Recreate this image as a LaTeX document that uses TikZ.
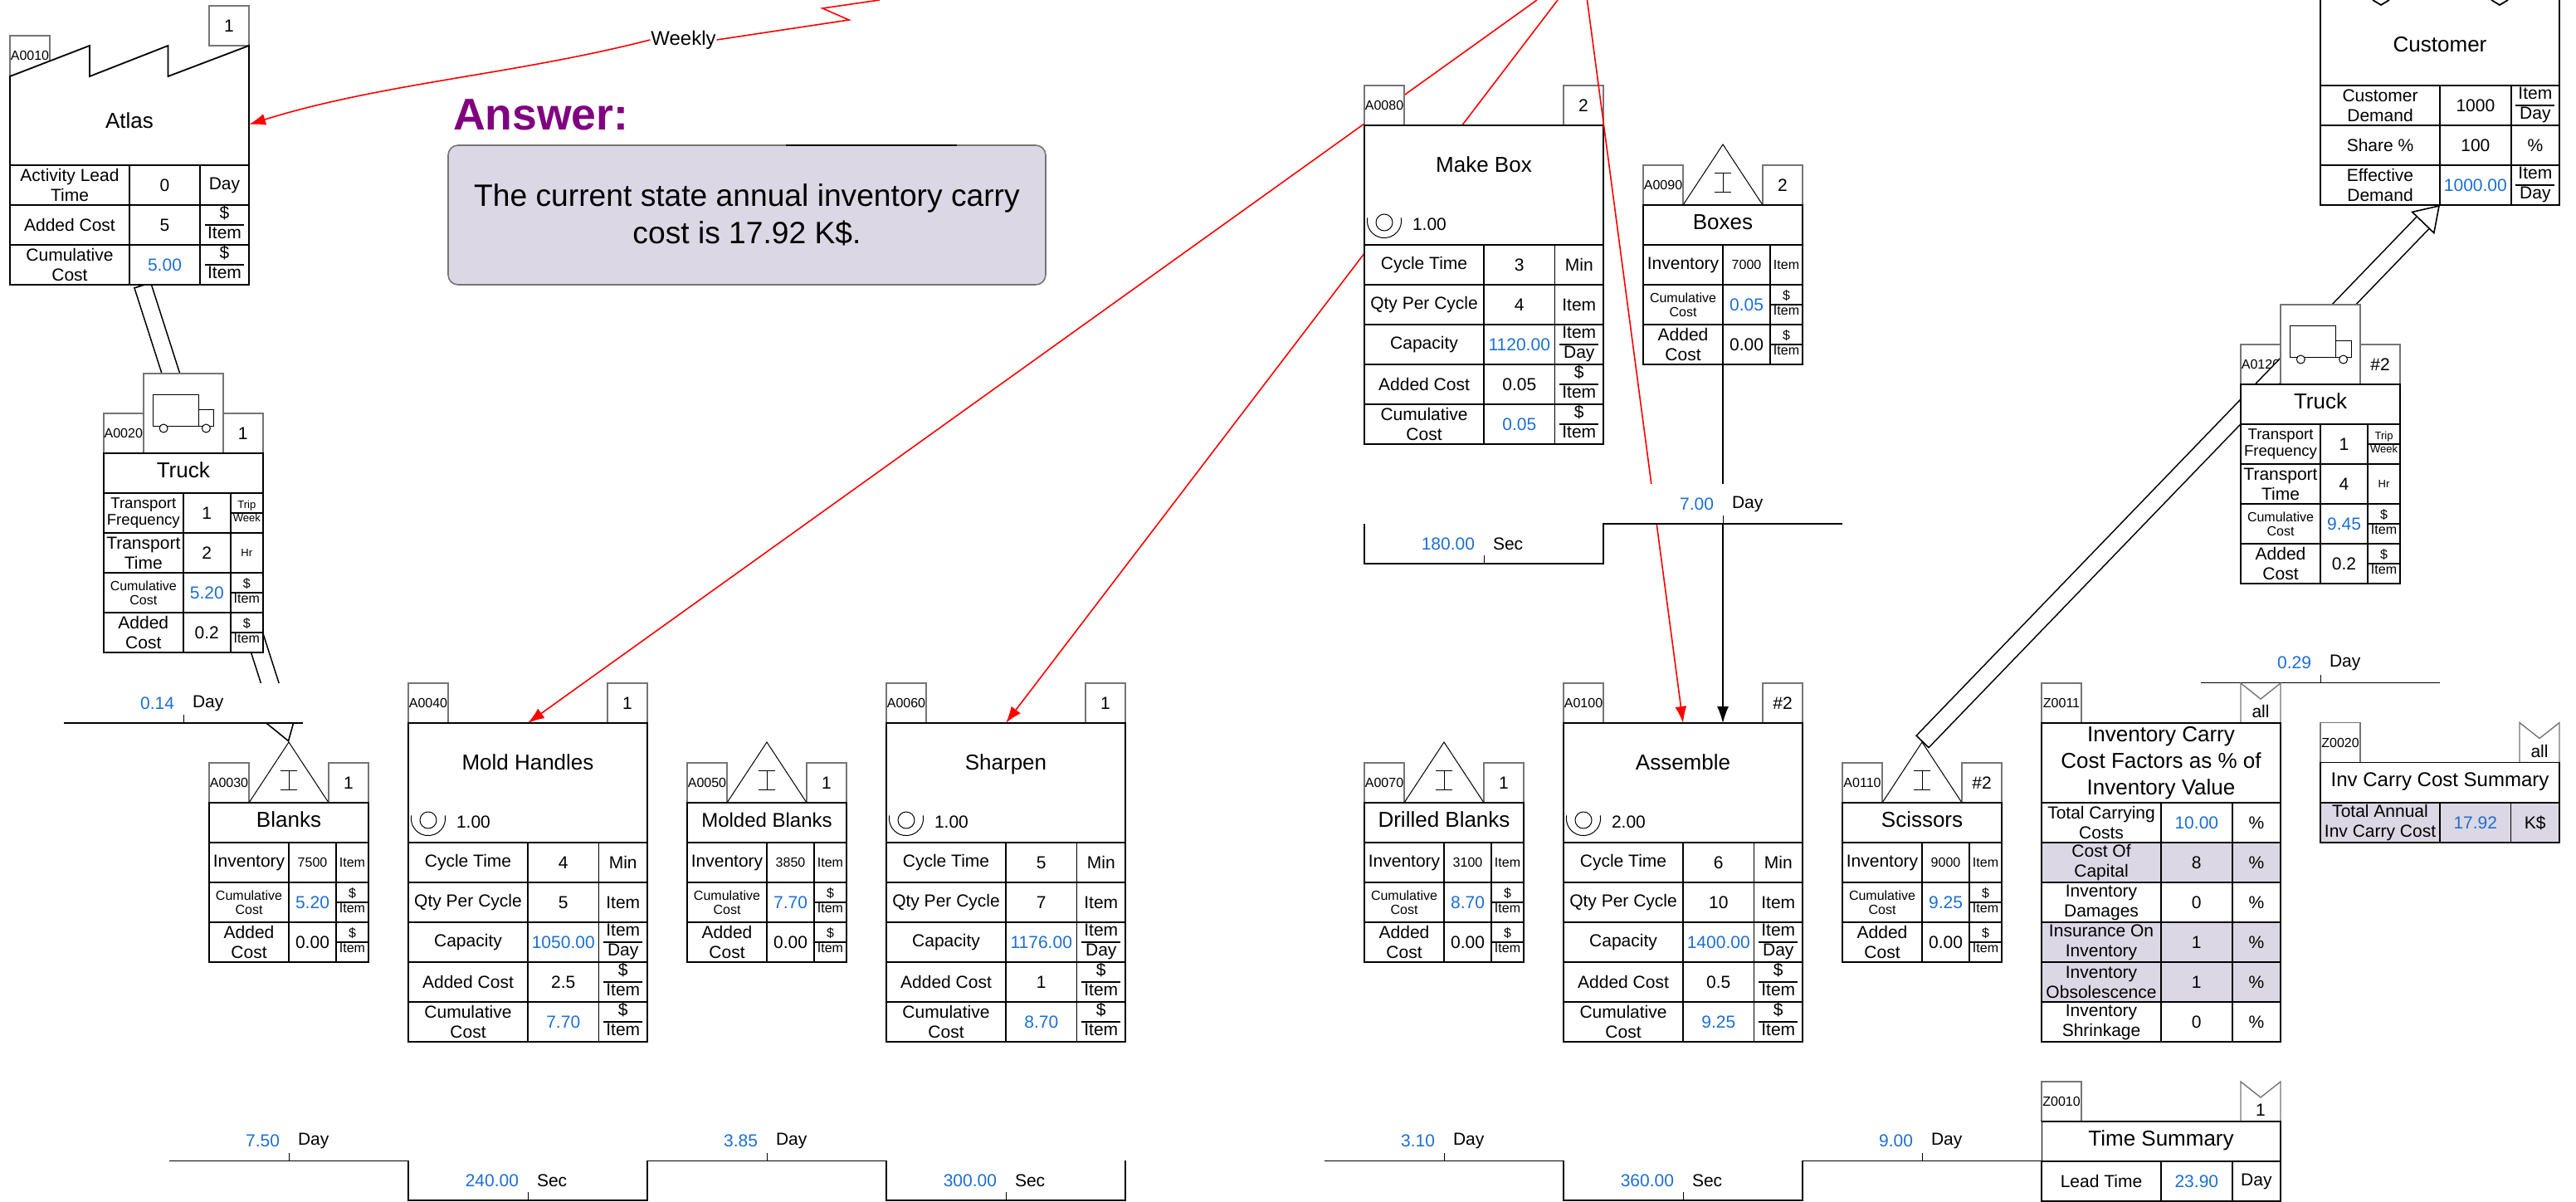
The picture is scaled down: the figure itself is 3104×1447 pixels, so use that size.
\documentclass[tikz,border=0pt]{standalone}
\usepackage{fontspec}
\setmainfont{Liberation Sans}
\usetikzlibrary{arrows.meta,calc}
\definecolor{valblue}{HTML}{1C6FD4}
\definecolor{boxlilac}{HTML}{DCD7E4}
\definecolor{answerpurple}{HTML}{800080}
\definecolor{tabgray}{HTML}{757575}
\newcommand{\fN}{\fontsize{10.5}{12}\selectfont}
\newcommand{\fS}{\fontsize{8}{9}\selectfont}
\newcommand{\fT}{\fontsize{6.5}{7.5}\selectfont}
\newcommand{\fF}{\fontsize{9.3}{11.5}\selectfont}
\newcommand{\fM}{\fontsize{12}{14}\selectfont}
\newcommand{\fH}{\fontsize{13}{16}\selectfont}
\tikzset{
  vsm-cell/.style={draw=black, fill=white, line width=0.9pt, inner sep=0pt, outer sep=0pt,
    align=center, font=\fN},
  head-text/.style={text height=9.5pt, text depth=4.5pt},
  vsm-head/.style={vsm-cell, line width=0.7pt, font=\fH, head-text},
  vsm-tab/.style={vsm-cell, draw=tabgray, line width=0.7pt},
  vsm-lilac/.style={fill=boxlilac},
  vsm-text/.style={inner sep=0pt, outer sep=0pt, align=center, font=\fN},
  vsm-thin/.style={draw=black, line width=0.5pt},
  time-cover/.style={fill=white, inner sep=0pt, outer sep=0pt, minimum width=144pt, minimum height=24pt},
  time-line/.style={draw=black, line width=0.9pt},
  info-line/.style={draw=red, line width=0.8pt},
  info-arrow/.style={info-line, -{Latex[length=10pt,width=7pt]}},
  push-arrow/.style={double, double distance=9.5pt, line width=0.8pt,
    {Bar[width=11pt,line width=0.8pt]}-{Triangle[open,fill=white,length=15pt,width=19.5pt,line width=0.8pt]}}
}
\newcommand{\cumval}[1]{\textcolor{valblue}{#1}}
\newcommand{\fracunit}[2]{{\renewcommand{\arraystretch}{.92}\setlength{\arrayrulewidth}{.9pt}%
  \begin{tabular}{@{\hspace{1.5pt}}c@{\hspace{1.5pt}}}#1\\\hline #2\end{tabular}}}
\newcommand{\vsmbox}[7][]{\node[vsm-cell, minimum width={((#5)-(#3))*0.5pt}, minimum height={((#6)-(#4))*0.5pt}, #1]
  (#2) at ({((#3)+(#5))/2},{((#4)+(#6))/2}) {#7};}
\newcommand{\setcols}[4]{\def\colA{#1}\def\colB{#2}\def\colC{#3}\def\colD{#4}}
\newcommand{\tabrow}[6][]{%
  \vsmbox[#1]{#2-l}{\colA}{#3}{\colB}{(#3)+48}{#4}
  \vsmbox[#1]{#2-v}{\colB}{#3}{\colC}{(#3)+48}{#5}
  \vsmbox[#1]{#2-u}{\colC}{#3}{\colD}{(#3)+48}{#6}}
\newcommand{\idtab}[4]{\vsmbox[vsm-tab, font=\fS]{#1}{#2}{#3}{(#2)+48}{(#3)+48}{#4}}
\newcommand{\numtab}[4]{\vsmbox[vsm-tab]{#1}{#2}{#3}{(#2)+48}{(#3)+48}{#4}}
\newcommand{\alltab}[4]{%
  \draw[draw=tabgray, fill=white, line width=0.7pt] (#2,#3) -- (#2,#3+48) -- (#2+48,#3+48) -- (#2+48,#3) -- (#2+24,#3+19) -- cycle;
  \node[vsm-text] (#1) at (#2+24,#3+34) {#4};}
% process box: name, left, top, id, count, title, operators
\newcommand{\processhead}[7]{%
  \idtab{#1-id}{#2}{(#3)-48}{#4}
  \numtab{#1-num}{(#2)+240}{(#3)-48}{#5}
  \vsmbox{#1}{#2}{#3}{(#2)+288}{(#3)+144}{}
  \node[vsm-text, font=\fH, anchor=base] (#1-title) at (#2+144,#3+56.5) {#6};
  \draw[vsm-thin] (#2+24,#3+117) circle[radius=5pt];
  \draw[vsm-thin] ($(#2+24,#3+115)+(170:10.3pt)$) arc[start angle=170, end angle=370, radius=10.3pt];
  \node[vsm-text, anchor=west] (#1-ops) at (#2+58,#3+119) {#7};}
% process table: name, left, top, cycle, qty, capacity, added, cumulative
\newcommand{\processrows}[8]{%
  \setcols{#2}{(#2)+144}{(#2)+229.5}{(#2)+288}
  \tabrow{#1-ct}{(#3)+144}{Cycle Time}{#4}{Min}
  \tabrow{#1-qty}{(#3)+192}{Qty Per Cycle}{#5}{Item}
  \tabrow{#1-cap}{(#3)+240}{Capacity}{\cumval{#6}}{\fracunit{Item}{Day}}
  \tabrow{#1-add}{(#3)+288}{Added Cost}{#7}{\fracunit{\$}{Item}}
  \tabrow{#1-cum}{(#3)+336}{Cumulative\\Cost}{\cumval{#8}}{\fracunit{\$}{Item}}}
% inventory box: name, left, top, id, count, title, inventory, cumulative, added
\newcommand{\inventorybox}[9]{%
  \idtab{#1-id}{#2}{(#3)-48}{#4}
  \numtab{#1-num}{(#2)+144}{(#3)-48}{#5}
  \coordinate (#1-apex) at (#2+96,#3-73);
  \draw[vsm-thin, fill=white] (#2+48,#3) -- (#1-apex) -- (#2+144,#3) -- cycle;
  \draw[vsm-thin] (#2+86,#3-39) -- (#2+106,#3-39) (#2+96,#3-39) -- (#2+96,#3-16) (#2+86,#3-16) -- (#2+106,#3-16);
  \vsmbox[vsm-head]{#1}{#2}{#3}{(#2)+192}{(#3)+48}{#6}
  \setcols{#2}{(#2)+96}{(#2)+153}{(#2)+192}
  \tabrow{#1-inv}{(#3)+48}{Inventory}{\fS #7}{\fS Item}
  \tabrow{#1-cum}{(#3)+96}{\fS Cumulative\\[-3.3pt]\fS Cost}{\cumval{#8}}{\fS\fracunit{\$}{Item}}
  \tabrow{#1-add}{(#3)+144}{Added\\Cost}{#9}{\fS\fracunit{\$}{Item}}}
% truck box (id tab comes separately): name, left, top, count, frequency, hours, cumulative, added
\newcommand{\truckbox}[8]{%
  \numtab{#1-num}{(#2)+144}{(#3)-48}{#4}
  \vsmbox[vsm-tab]{#1-van}{(#2)+48}{(#3)-96}{(#2)+144}{#3}{}
  \draw[vsm-thin] (#2+59.6,#3-71) rectangle (#2+114.6,#3-33) (#2+114.6,#3-53) rectangle (#2+133,#3-33);
  \draw[vsm-thin, fill=white] (#2+72.3,#3-30) circle[radius=2.5pt] (#2+123.6,#3-30) circle[radius=2.5pt];
  \vsmbox[vsm-head]{#1}{#2}{#3}{(#2)+192}{(#3)+48}{Truck}
  \setcols{#2}{(#2)+96}{(#2)+153}{(#2)+192}
  \tabrow{#1-freq}{(#3)+48}{\fF Transport\\[-2pt]\fF Frequency}{#5}{\fT\fracunit{Trip}{Week}}
  \tabrow{#1-time}{(#3)+96}{Transport\\Time}{#6}{\fT Hr}
  \tabrow{#1-cum}{(#3)+144}{\fS Cumulative\\[-3.3pt]\fS Cost}{\cumval{#7}}{\fS\fracunit{\$}{Item}}
  \tabrow{#1-add}{(#3)+192}{Added\\Cost}{#8}{\fS\fracunit{\$}{Item}}}
% time ladder step: name, centre, base line, value, unit
\newcommand{\timestep}[5]{%
  \node[time-cover] (#1) at (#2,#3-24) {};
  \draw[vsm-thin] (#1.south) -- ++(0,-10);
  \node[vsm-text, anchor=east] (#1-val) at (#2-11,#3-24) {\cumval{#4}};
  \node[vsm-text, anchor=west] (#1-unit) at (#2+11,#3-24) {#5};}
\begin{document}
\begin{tikzpicture}[>=Latex, x=0.5pt, y=-0.5pt]
  \useasboundingbox (0,0) rectangle (3104,1447);

  % Blanks, with the push arrow from Atlas
  \inventorybox{blanks}{252}{967}{A0030}{1}{Blanks}{7500}{\cumval{5.20}}{0.00}
  \coordinate (atlas-out) at (171.6,343);
  \draw[push-arrow] (atlas-out) -- (blanks-apex);

  % Atlas box
  \idtab{atlas-id}{12}{43}{A0010}
  \numtab{atlas-num}{252}{7}{1}
  \draw[draw=black, fill=white, line width=0.9pt] (12,199) -- (12,92) -- (108,55) -- (108,92) -- (202.5,55) -- (202.5,92) -- (300,55) -- (300,199) -- cycle;
  \node[vsm-text, font=\fH, minimum width=144pt, minimum height=53pt] (atlas) at (156,145.5) {Atlas};
  \setcols{12}{156}{241}{300}
  \tabrow{atlas-lead}{199}{Activity Lead\\Time}{0}{Day}
  \tabrow{atlas-add}{247}{Added Cost}{5}{\fracunit{\$}{Item}}
  \tabrow{atlas-cum}{295}{Cumulative\\Cost}{\cumval{5.00}}{\fracunit{\$}{Item}}

  % First truck and its lead time
  \idtab{truck-a-id}{124.8}{498}{A0020}
  \truckbox{truck-a}{124.8}{546}{1}{1}{2}{5.20}{0.2}
  \timestep{time-a}{221}{871}{0.14}{Day}
  \draw[time-line] (time-a.south west) -- (time-a.south east);

  % Answer
  \node[anchor=base west, inner sep=0pt, outer sep=0pt, font=\fontsize{26.8}{30}\selectfont\bfseries, text=answerpurple] (answer-title) at (546,156) {Answer:};
  \node[draw=tabgray, fill=boxlilac, rounded corners=6pt, line width=0.8pt, align=center, font=\fontsize{18.6}{22.5}\selectfont,
    minimum width=360pt, minimum height=84pt, inner sep=0pt, outer sep=0pt] (answer) at (900,259) {The current state annual inventory carry\\cost is 17.92 K\$.};
  \draw[line width=1pt] (answer.north) ++(47,0) coordinate (answer-strip-a) ++(206,0) coordinate (answer-strip-b);
  \draw[line width=1pt] (answer-strip-a) -- (answer-strip-b);

  % Mold Handles, Molded Blanks, Sharpen
  \processhead{mold}{492}{871}{A0040}{1}{Mold Handles}{1.00}
  \processrows{mold}{492}{871}{4}{5}{1050.00}{2.5}{7.70}
  \inventorybox{molded}{828}{967}{A0050}{1}{\fM Molded Blanks}{3850}{7.70}{0.00}
  \processhead{sharpen}{1068}{871}{A0060}{1}{Sharpen}{1.00}
  \processrows{sharpen}{1068}{871}{5}{7}{1176.00}{1}{8.70}

  % Assemble and drilled blanks
  \inventorybox{drilled}{1644}{967}{A0070}{1}{Drilled Blanks}{3100}{8.70}{0.00}
  \processhead{assemble}{1884}{871}{A0100}{\#2}{Assemble}{2.00}
  \processrows{assemble}{1884}{871}{6}{10}{1400.00}{0.5}{9.25}

  % Information lines running behind Make Box
  \coordinate (info-mold) at (1852,0);
  \coordinate (info-sharpen) at (1877,0);
  \coordinate (info-assemble) at (1912.5,0);
  \draw[info-arrow] (info-mold) -- (mold.north);
  \draw[info-arrow] (info-sharpen) -- (sharpen.north);

  % Make Box
  \processhead{makebox}{1644}{151}{A0080}{2}{Make Box}{1.00}
  \processrows{makebox}{1644}{151}{3}{4}{1120.00}{0.05}{0.05}
  \draw[info-arrow] (info-assemble) -- (assemble.north);

  % Boxes
  \inventorybox{boxes}{1980}{247}{A0090}{2}{Boxes}{7000}{0.05}{0.00}
  \draw[-{Latex[length=10pt,width=7pt]}, line width=0.65pt] (boxes-add-l.south east) -- (boxes-add-l.south east |- assemble.north);

  % Time ladder under Make Box
  \timestep{time-mb}{1788}{679}{180.00}{Sec}
  \timestep{time-bx}{2076}{631}{7.00}{Day}
  \draw[time-line] (time-mb.north west) -- (time-mb.south west) -- (time-mb.south east) -- (time-bx.south west) -- (time-bx.south east);

  % Weekly line to Atlas
  \node[vsm-text, fill=white, font=\fontsize{12}{14}\selectfont, inner xsep=0.5pt] (weekly) at (823.5,48) {Weekly};
  \coordinate (info-atlas) at (1060,0);
  \coordinate (zig-a) at (991,10);
  \coordinate (zig-b) at (1023,24);
  \draw[info-line] (info-atlas) -- (zig-a) -- (zig-b) -- (weekly.east);
  \draw[info-arrow] (weekly.west) .. controls (620,90) and (460,100) .. ([yshift=-2.2pt]atlas.east);

  % Scissors, Customer, second truck
  \inventorybox{scissors}{2220}{967}{A0110}{\#2}{Scissors}{9000}{9.25}{0.00}
  \vsmbox{customer}{2796}{-3}{3084}{103}{}
  \node[vsm-text, font=\fH] (customer-title) at (2940,54) {Customer};
  \draw[vsm-cell] (2859,0) -- (2869,6) -- (2879,0);
  \draw[vsm-cell] (3002,0) -- (3012,6) -- (3022,0);
  \setcols{2796}{2940}{3025.7}{3084}
  \tabrow{customer-dem}{103}{Customer\\Demand}{1000}{\fracunit{Item}{Day}}
  \tabrow{customer-share}{151}{Share \%}{100}{\%}
  \tabrow{customer-eff}{199}{Effective\\Demand}{\cumval{1000.00}}{\fracunit{Item}{Day}}
  \idtab{truck-b-id}{2700}{415}{A0120}
  \draw[push-arrow] (scissors-apex) -- (customer-eff-l.south east);
  \truckbox{truck-b}{2700}{463}{\#2}{1}{4}{9.45}{0.2}
  \timestep{time-tb}{2796}{822.5}{0.29}{Day}
  \draw[time-line] (time-tb.south west) -- (time-tb.south east);

  % Inventory carry factors
  \idtab{factors-id}{2460}{823}{Z0011}
  \alltab{factors-all}{2700}{823}{all}
  \vsmbox[font=\fH]{factors}{2460}{871}{2748}{967}{Inventory Carry\\Cost Factors as \% of\\Inventory Value}
  \setcols{2460}{2604}{2689.6}{2748}
  \tabrow{factors-total}{967}{Total Carrying\\Costs}{\cumval{10.00}}{\%}
  \tabrow[vsm-lilac]{factors-capital}{1015}{Cost Of\\Capital}{8}{\%}
  \tabrow{factors-damage}{1063}{Inventory\\Damages}{0}{\%}
  \tabrow[vsm-lilac]{factors-insure}{1111}{Insurance On\\Inventory}{1}{\%}
  \tabrow[vsm-lilac]{factors-obsolete}{1159}{Inventory\\Obsolescence}{1}{\%}
  \tabrow{factors-shrink}{1207}{Inventory\\Shrinkage}{0}{\%}

  % Inv carry cost summary
  \idtab{carry-id}{2796}{870.5}{Z0020}
  \alltab{carry-all}{3036}{870.5}{all}
  \vsmbox[font=\fM, head-text]{carry}{2796}{918.5}{3084}{967}{Inv Carry Cost Summary}
  \setcols{2796}{2940}{3025.5}{3084}
  \tabrow[vsm-lilac]{carry-total}{967}{Total Annual\\Inv Carry Cost}{\cumval{17.92}}{K\$}

  % Time summary
  \idtab{timesum-id}{2460}{1303}{Z0010}
  \alltab{timesum-all}{2700}{1303}{1}
  \vsmbox[font=\fH, head-text]{timesum}{2460}{1351}{2748}{1399}{Time Summary}
  \setcols{2460}{2604}{2689.6}{2748}
  \tabrow{timesum-lead}{1399}{Lead Time}{\cumval{23.90}}{Day}

  % Time ladder along the bottom
  \timestep{time-bl}{348}{1398.5}{7.50}{Day}
  \timestep{time-mh}{636}{1446}{240.00}{Sec}
  \timestep{time-mo}{924}{1398.5}{3.85}{Day}
  \timestep{time-sh}{1212}{1446}{300.00}{Sec}
  \draw[time-line] (time-bl.south west) -- (time-bl.south east) -- (time-mh.south west) -- (time-mh.south east)
    -- (time-mo.south west) -- (time-mo.south east) -- (time-sh.south west) -- (time-sh.south east) -- (time-sh.north east);
  \timestep{time-dr}{1740}{1398.5}{3.10}{Day}
  \timestep{time-as}{2028}{1446}{360.00}{Sec}
  \timestep{time-sc}{2316}{1398.5}{9.00}{Day}
  \draw[time-line] (time-dr.south west) -- (time-dr.south east) -- (time-as.south west) -- (time-as.south east)
    -- (time-sc.south west) -- (time-sc.south east) -- (timesum-lead-l.north west);
\end{tikzpicture}
\end{document}
